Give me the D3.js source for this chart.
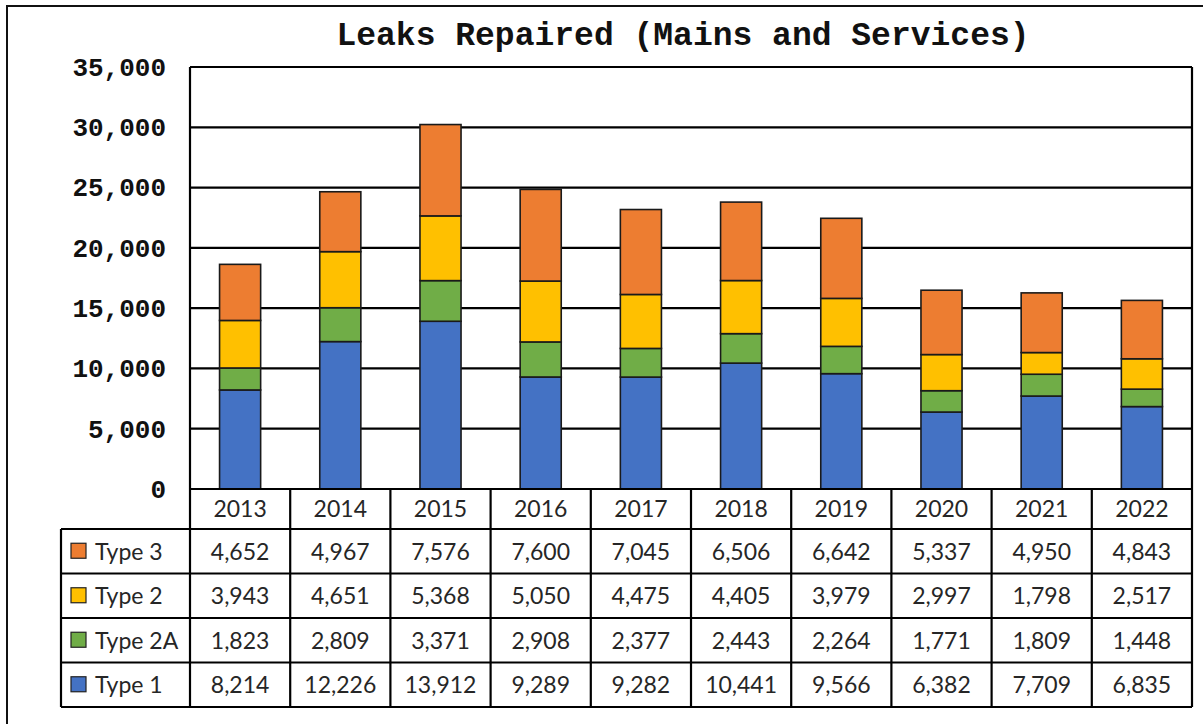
<!DOCTYPE html>
<html>
<head>
<meta charset="utf-8">
<script src="https://cdn.jsdelivr.net/npm/d3@7"></script>
<style>
    body { margin: 0; background: #fff; }
    svg { display: block; }
</style>
</head>
<body>
<svg id="chart"></svg>
<script>
var years = ["2013", "2014", "2015", "2016", "2017", "2018", "2019", "2020", "2021", "2022"];
var type1 = [8214, 12226, 13912, 9289, 9282, 10441, 9566, 6382, 7709, 6835];
var type2a = [1823, 2809, 3371, 2908, 2377, 2443, 2264, 1771, 1809, 1448];
var type2 = [3943, 4651, 5368, 5050, 4475, 4405, 3979, 2997, 1798, 2517];
var type3 = [4652, 4967, 7576, 7600, 7045, 6506, 6642, 5337, 4950, 4843];
var yTicks = [0, 5000, 10000, 15000, 20000, 25000, 30000, 35000];

// stack order, bottom to top
var series = [
    {name: "Type 1", values: type1, color: "#4472c4"},
    {name: "Type 2A", values: type2a, color: "#70ad47"},
    {name: "Type 2", values: type2, color: "#ffc000"},
    {name: "Type 3", values: type3, color: "#ed7d31"}
];

var width = 1203, height = 724;
var margin = ({top: 67, right: 11, bottom: 235, left: 190});
var plotBottom = height - margin.bottom;

var svg = d3.select("#chart")
    .attr("width", width)
    .attr("height", height);

// outer frame (runs off the right and bottom edges)
svg.append("rect")
    .attr("x", 7).attr("y", 6)
    .attr("width", width + 10).attr("height", height + 10)
    .attr("fill", "none")
    .attr("stroke", "#111")
    .attr("stroke-width", 2);

var x = d3.scaleBand()
    .domain(years)
    .range([margin.left, width - margin.right])
    .paddingInner(0)
    .paddingOuter(0);

var y = d3.scaleLinear()
    .domain([0, 35000])
    .range([plotBottom, margin.top]);

var barW = x.bandwidth() * 0.41;

svg.append("text")
    .attr("x", 683)
    .attr("y", 45)
    .attr("text-anchor", "middle")
    .style("font-family", "'Liberation Mono', 'Courier New', monospace")
    .style("font-weight", "bold")
    .style("font-size", "33px")
    .attr("fill", "#111")
    .text("Leaks Repaired (Mains and Services)");

// gridlines
svg.append("g")
    .selectAll("line")
    .data(yTicks)
    .enter()
    .append("line")
        .attr("x1", margin.left)
        .attr("x2", width - margin.right)
        .attr("y1", d => y(d))
        .attr("y2", d => y(d))
        .attr("stroke", "#000")
        .attr("stroke-width", 2.2);

// y axis labels
var yAxis = g => g
    .attr("transform", `translate(${margin.left},0)`)
    .call(d3.axisLeft(y).tickValues(yTicks).tickFormat(d3.format(",d")).tickSize(0).tickPadding(24))
    .call(g => g.select(".domain").remove())
    .call(g => g.selectAll("text")
        .style("font-family", "'Liberation Mono', 'Courier New', monospace")
        .style("font-weight", "bold")
        .style("font-size", "26px")
        .attr("fill", "#111"));

svg.append("g").call(yAxis);

var stacked = d3.stack()
    .keys(d3.range(series.length))
    .value((row, k) => series[k].values[row])(d3.range(years.length));

svg.append("g")
    .selectAll("g")
    .data(stacked)
    .enter()
    .append("g")
        .attr("fill", (d, i) => series[i].color)
    .selectAll("rect")
    .data(d => d)
    .enter()
    .append("rect")
        .attr("x", (d, i) => x(years[i]) + (x.bandwidth() - barW) / 2)
        .attr("y", d => y(d[1]))
        .attr("width", barW)
        .attr("height", d => y(d[0]) - y(d[1]))
        .attr("stroke", "#1a1a1a")
        .attr("stroke-width", 1.6);

// plot side borders
svg.append("g")
    .selectAll("line")
    .data([margin.left, width - margin.right])
    .enter()
    .append("line")
        .attr("x1", d => d).attr("x2", d => d)
        .attr("y1", margin.top).attr("y2", plotBottom)
        .attr("stroke", "#000")
        .attr("stroke-width", 2.2);

// data table
var headerH = 40, rowH = 44.5;
var tableLeft = 61, tableRight = width - margin.right;
var rows = series.slice().reverse();
var tableBottom = plotBottom + headerH + rows.length * rowH;
var tableFont = "Lato, 'Open Sans', sans-serif";

var table = svg.append("g");

// horizontal lines
table.append("line")
    .attr("x1", margin.left).attr("x2", tableRight)
    .attr("y1", plotBottom).attr("y2", plotBottom);
table.selectAll(".hrow")
    .data(d3.range(rows.length + 1))
    .enter()
    .append("line")
        .attr("class", "hrow")
        .attr("x1", tableLeft).attr("x2", tableRight)
        .attr("y1", i => plotBottom + headerH + i * rowH)
        .attr("y2", i => plotBottom + headerH + i * rowH);

// vertical lines
table.append("line")
    .attr("x1", tableLeft).attr("x2", tableLeft)
    .attr("y1", plotBottom + headerH).attr("y2", tableBottom);
table.selectAll(".vcol")
    .data(years.concat(["end"]))
    .enter()
    .append("line")
        .attr("class", "vcol")
        .attr("x1", d => d === "end" ? tableRight : x(d))
        .attr("x2", d => d === "end" ? tableRight : x(d))
        .attr("y1", plotBottom).attr("y2", tableBottom);

table.selectAll("line")
    .attr("stroke", "#000")
    .attr("stroke-width", 2.2);

// year header
table.selectAll(".year")
    .data(years)
    .enter()
    .append("text")
        .attr("class", "year")
        .attr("x", d => x(d) + x.bandwidth() / 2)
        .attr("y", plotBottom + headerH / 2)
        .attr("dy", "0.36em")
        .attr("text-anchor", "middle")
        .text(d => d);

var fmt = d3.format(",d");

rows.forEach(function(s, r) {
    var cy = plotBottom + headerH + r * rowH + rowH / 2;

    table.append("rect")
        .attr("x", 71).attr("y", cy - 8)
        .attr("width", 15).attr("height", 15)
        .attr("fill", s.color)
        .attr("stroke", "#222")
        .attr("stroke-width", 1.2);

    table.append("text")
        .attr("x", 95)
        .attr("y", cy)
        .attr("dy", "0.36em")
        .text(s.name);

    table.selectAll(".v" + r)
        .data(s.values)
        .enter()
        .append("text")
            .attr("class", "v" + r)
            .attr("x", (d, i) => x(years[i]) + x.bandwidth() / 2)
            .attr("y", cy)
            .attr("dy", "0.36em")
            .attr("text-anchor", "middle")
            .text(d => fmt(d));
});

table.selectAll("text")
    .style("font-family", tableFont)
    .style("font-size", "23px")
    .attr("fill", "#262626");
</script>
</body>
</html>
